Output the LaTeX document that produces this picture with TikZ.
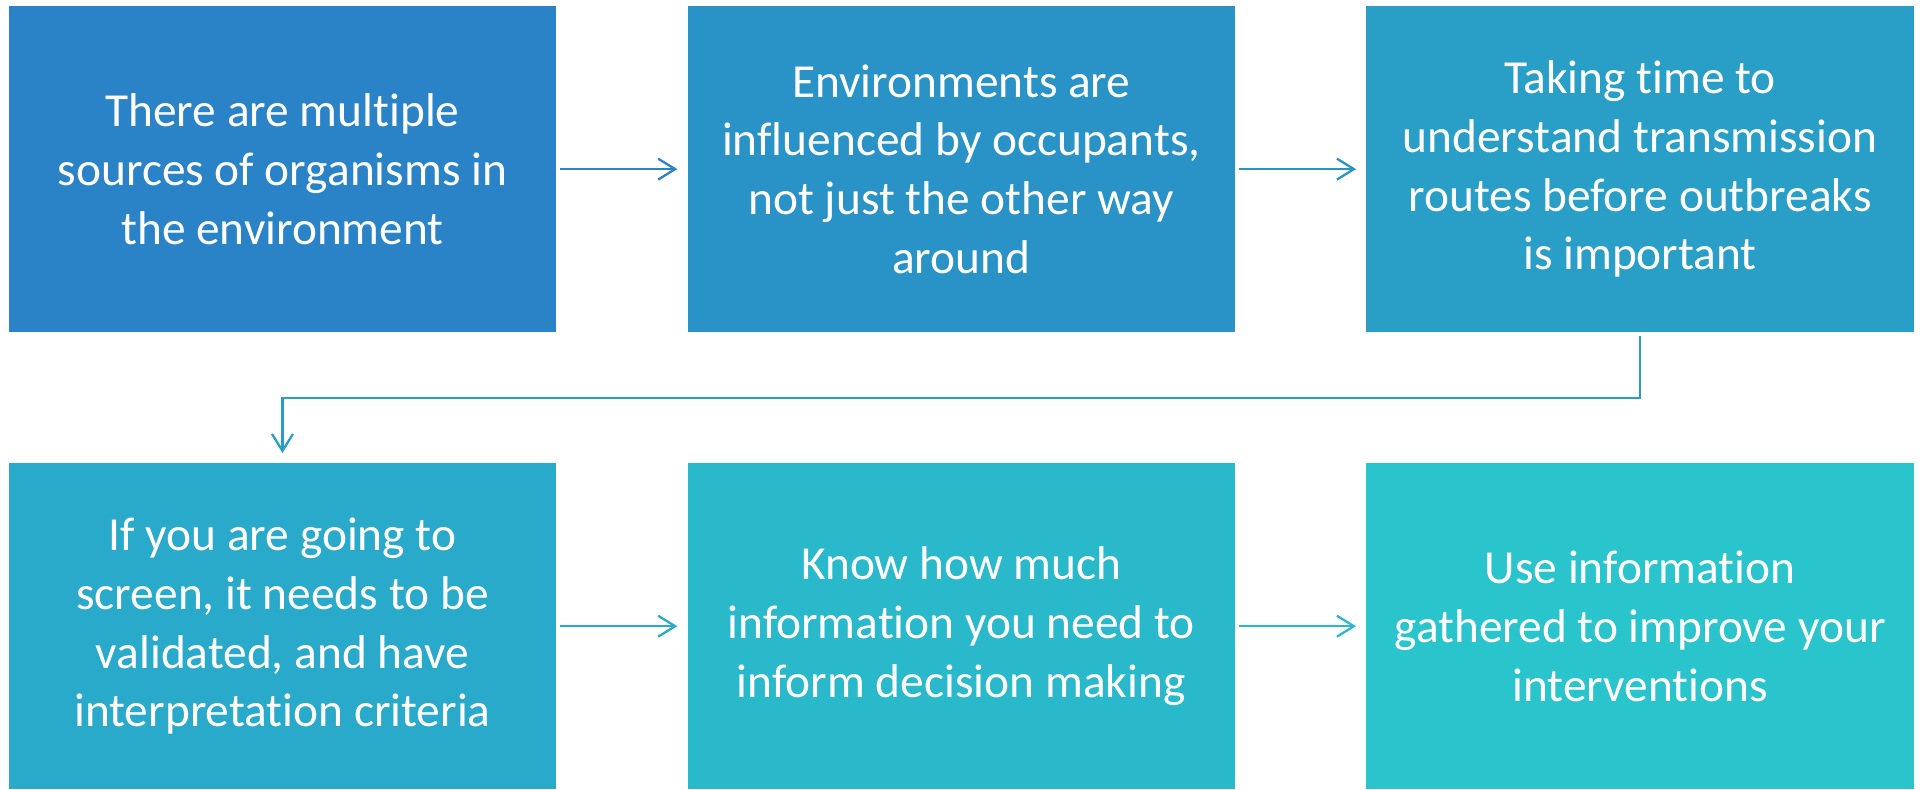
\documentclass[tikz,border=0pt]{standalone}
\usepackage{fontspec}
\setmainfont{Carlito}[Ligatures=NoCommon]
\usetikzlibrary{positioning,arrows.meta}

% fills run from blue to teal along the chain
\definecolor{stepa}{HTML}{2A83C7}
\definecolor{stepb}{HTML}{2992C6}
\definecolor{stepc}{HTML}{299FC8}
\definecolor{stepd}{HTML}{2AAACA}
\definecolor{stepe}{HTML}{2AB8CB}
\definecolor{stepf}{HTML}{2AC5CC}

\begin{document}
\begin{tikzpicture}[
  card/.style={fill=#1,text=white,align=center,inner sep=0pt,
               minimum width=10.96cm,minimum height=6.52cm,
               font=\fontsize{27}{33.5}\selectfont},
  arr/.style={draw=#1,line width=1.3pt,-{Straight Barb[length=0.34cm,width=0.42cm]},
              shorten <=0.08cm,shorten >=0.2cm}]
\node[card=stepa] (src) {There are multiple\\sources of organisms in\\the environment};
\node[card=stepb,right=2.62cm of src] (occ) {Environments are\\influenced by occupants,\\not just the other way\\around};
\node[card=stepc,right=2.62cm of occ] (route) {Taking time to\\understand transmission\\routes before outbreaks\\is important};
\node[card=stepd,below=2.62cm of src] (screen) {If you are going to\\screen, it needs to be\\validated, and have\\interpretation criteria};
\node[card=stepe,right=2.62cm of screen] (need) {Know how much\\information you need to\\inform decision making};
\node[card=stepf,right=2.62cm of need] (use) {Use information\\gathered to improve your\\interventions};
\useasboundingbox ([xshift=-0.17cm,yshift=0.12cm]src.north west) rectangle ([xshift=0.14cm]use.south east);
\draw[arr=stepa] (src) -- (occ);
\draw[arr=stepb] (occ) -- (route);
\draw[arr=stepc] (route.south) -- ++(0,-1.31) -| (screen.north);
\draw[arr=stepd] (screen) -- (need);
\draw[arr=stepe] (need) -- (use);
\end{tikzpicture}
\end{document}
